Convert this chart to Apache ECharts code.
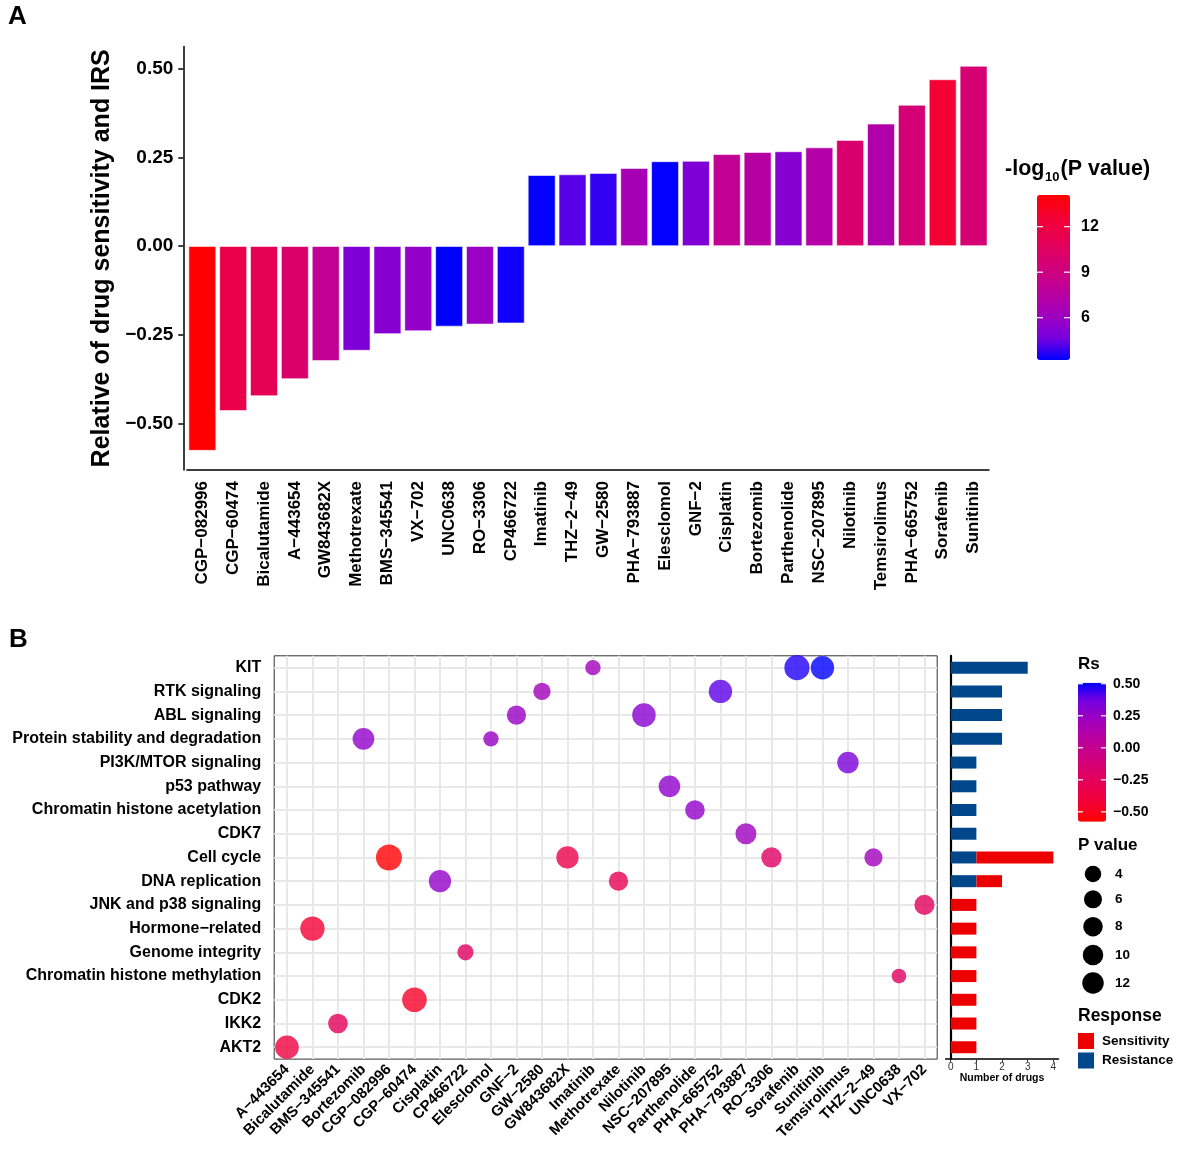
<!DOCTYPE html>
<html>
<head>
<meta charset="utf-8">
<script src="https://cdn.jsdelivr.net/npm/echarts@6/dist/echarts.min.js"></script>
<style>
  html, body { margin: 0; padding: 0; background: #fff; }
  #main { width: 1181px; height: 1160px; }
</style>
</head>
<body>
<div id="main"></div>
<script>
  'use strict'

  /*-----data-----*/
  // panel A order (sorted by Rs)
  var drugs = ['CGP-082996', 'CGP-60474', 'Bicalutamide', 'A-443654', 'GW843682X', 'Methotrexate',
    'BMS-345541', 'VX-702', 'UNC0638', 'RO-3306', 'CP466722', 'Imatinib', 'THZ-2-49', 'GW-2580',
    'PHA-793887', 'Elesclomol', 'GNF-2', 'Cisplatin', 'Bortezomib', 'Parthenolide', 'NSC-207895',
    'Nilotinib', 'Temsirolimus', 'PHA-665752', 'Sorafenib', 'Sunitinib'];
  var rsValues = [-0.577, -0.465, -0.423, -0.375, -0.324, -0.295, -0.248, -0.240, -0.227, -0.221, -0.218,
    0.200, 0.202, 0.206, 0.220, 0.239, 0.240, 0.259, 0.265, 0.267, 0.278, 0.299, 0.345, 0.398, 0.470, 0.508];
  // -log10(P value)
  var logP = [14.09, 11.6, 11.1, 10.0, 8.1, 5.0, 5.3, 5.7, 3.21, 5.9, 3.4, 3.25, 4.25, 3.8,
    6.6, 3.25, 5.0, 8.1, 7.45, 5.25, 7.25, 9.9, 7.1, 9.6, 12.6, 9.7];
  var drugPathway = ['Cell cycle', 'CDK2', 'Hormone-related', 'AKT2', 'Cell cycle', 'DNA replication',
    'IKK2', 'JNK and p38 signaling', 'Chromatin histone methylation', 'Cell cycle', 'Genome integrity',
    'KIT', 'Cell cycle', 'RTK signaling', 'CDK7', 'Protein stability and degradation', 'ABL signaling',
    'DNA replication', 'Protein stability and degradation', 'Chromatin histone acetylation', 'p53 pathway',
    'ABL signaling', 'PI3K/MTOR signaling', 'RTK signaling', 'KIT', 'KIT'];

  // panel B axes
  var drugsAlpha = ['A-443654', 'Bicalutamide', 'BMS-345541', 'Bortezomib', 'CGP-082996', 'CGP-60474',
    'Cisplatin', 'CP466722', 'Elesclomol', 'GNF-2', 'GW-2580', 'GW843682X', 'Imatinib', 'Methotrexate',
    'Nilotinib', 'NSC-207895', 'Parthenolide', 'PHA-665752', 'PHA-793887', 'RO-3306', 'Sorafenib',
    'Sunitinib', 'Temsirolimus', 'THZ-2-49', 'UNC0638', 'VX-702'];
  var pathways = ['KIT', 'RTK signaling', 'ABL signaling', 'Protein stability and degradation',
    'PI3K/MTOR signaling', 'p53 pathway', 'Chromatin histone acetylation', 'CDK7', 'Cell cycle',
    'DNA replication', 'JNK and p38 signaling', 'Hormone-related', 'Genome integrity',
    'Chromatin histone methylation', 'CDK2', 'IKK2', 'AKT2'];
  var resistCount = [3, 2, 2, 2, 1, 1, 1, 1, 1, 1, 0, 0, 0, 0, 0, 0, 0];
  var sensCount = [0, 0, 0, 0, 0, 0, 0, 0, 3, 1, 1, 1, 1, 1, 1, 1, 1];

  // tick labels
  var yTicksA = [-0.5, -0.25, 0, 0.25, 0.5];
  var pTicks = [12, 9, 6];
  var rsTicks = [0.5, 0.25, 0, -0.25, -0.5];
  var sizeKeys = [4, 6, 8, 10, 12];
  var countTicks = [0, 1, 2, 3, 4];

  /*-----style-----*/
  var FONT = 'Liberation Sans, Arial, Helvetica, sans-serif';
  // blue -> red through Lab (ggplot style)
  var blueRed = ['#0000FF', '#7300E0', '#9A00C3', '#B500A5', '#C90089', '#DA006C', '#E8004F', '#F40031', '#FF0000'];
  var redBlue = blueRed.slice().reverse();

  var pMin = 3.21, pMax = 14.09;
  var rsMin = -0.577, rsMax = 0.508;
  var dMin = 14.7, dMax = 26;           // bubble diameters at pMin / pMax
  var cbA = { x: 1037, y: 195, w: 33, h: 165 };
  var cbB = { x: 1078, y: 682.7, w: 28, h: 139 };
  var keyDiam = [16.5, 18, 19.5, 20.5, 21.5];
  var keyY = [874, 899.3, 926.7, 955, 983];

  function fmt(v) { return (v < 0 ? '\u2212' : '') + Math.abs(v).toFixed(2); }
  function dash(s) { return s.replace(/-/g, '\u2212'); }

  function txt(x, y, s, size, opts) {
    opts = opts || {};
    return {
      type: 'text', x: x, y: y, silent: true,
      style: {
        text: s, fontFamily: FONT, fontSize: size, fontWeight: opts.weight || 'bold',
        fill: opts.color || '#000', align: opts.align || 'left', verticalAlign: 'middle'
      }
    };
  }

  var graphics = [];
  graphics.push(txt(8, 17, 'A', 26));
  graphics.push(txt(9, 640, 'B', 26));

  // legend A: -log10(P value)
  graphics.push(txt(1005, 169, '-log', 21.5));
  graphics.push(txt(1045, 177, '10', 13));
  graphics.push(txt(1060.5, 169, '(P value)', 21.5));
  pTicks.forEach(function (v) {
    var y = cbA.y + (pMax - v) / (pMax - pMin) * cbA.h;
    graphics.push(txt(1081, y, String(v), 16));
    graphics.push({ type: 'line', silent: true, shape: { x1: cbA.x, y1: y, x2: cbA.x + 6, y2: y }, style: { stroke: '#fff', lineWidth: 1.2 }, z: 100 });
    graphics.push({ type: 'line', silent: true, shape: { x1: cbA.x + cbA.w - 6, y1: y, x2: cbA.x + cbA.w, y2: y }, style: { stroke: '#fff', lineWidth: 1.2 }, z: 100 });
  });

  // legend B: Rs
  graphics.push(txt(1078, 664.5, 'Rs', 17));
  rsTicks.forEach(function (v) {
    var y = cbB.y + (rsMax - v) / (rsMax - rsMin) * cbB.h;
    graphics.push(txt(1113, y, fmt(v), 14));
    graphics.push({ type: 'line', silent: true, shape: { x1: cbB.x, y1: y, x2: cbB.x + 5, y2: y }, style: { stroke: '#fff', lineWidth: 1.2 }, z: 100 });
    graphics.push({ type: 'line', silent: true, shape: { x1: cbB.x + cbB.w - 5, y1: y, x2: cbB.x + cbB.w, y2: y }, style: { stroke: '#fff', lineWidth: 1.2 }, z: 100 });
  });

  // legend B: P value sizes
  graphics.push(txt(1078, 845, 'P value', 17));
  sizeKeys.forEach(function (v, i) {
    graphics.push({ type: 'circle', silent: true, shape: { cx: 1093, cy: keyY[i], r: keyDiam[i] / 2 }, style: { fill: '#000' } });
    graphics.push(txt(1115, keyY[i], String(v), 13.5));
  });

  // legend B: Response
  graphics.push(txt(1078, 1016, 'Response', 17.5));
  graphics.push({ type: 'rect', silent: true, shape: { x: 1078, y: 1033, width: 16, height: 16 }, style: { fill: '#ED0000' } });
  graphics.push({ type: 'rect', silent: true, shape: { x: 1078, y: 1052.5, width: 16, height: 16 }, style: { fill: '#00468B' } });
  graphics.push(txt(1102, 1041, 'Sensitivity', 13.5));
  graphics.push(txt(1102, 1060.5, 'Resistance', 13.5));

  /*-----chart-----*/
  var chart = echarts.init(document.getElementById('main'), null, { renderer: 'canvas' });

  var option = {
    animation: false,
    backgroundColor: '#fff',
    textStyle: { fontFamily: FONT },
    grid: [
      { left: 186.9, top: 46.6, width: 802.1, height: 423.4 },
      { left: 274.2, top: 655.8, width: 663, height: 403.3, show: true, borderColor: '#333', borderWidth: 1, backgroundColor: 'transparent' },
      { left: 945.6, top: 655.8, width: 112.9, height: 403.3 }
    ],
    xAxis: [
      {
        type: 'category', gridIndex: 0, data: drugs,
        axisLine: { onZero: false, lineStyle: { color: '#000', width: 1.5 } },
        axisTick: { alignWithLabel: true, length: 5, lineStyle: { color: '#000', width: 1.5 } },
        axisLabel: { rotate: 90, interval: 0, margin: 11, fontSize: 17, fontWeight: 'bold', color: '#000', fontFamily: FONT, formatter: dash }
      },
      {
        type: 'category', gridIndex: 1, data: drugsAlpha,
        axisLine: { show: false },
        axisTick: { alignWithLabel: true, interval: 0, length: 5, lineStyle: { color: '#333', width: 1 } },
        axisLabel: { rotate: 45, interval: 0, margin: 8, fontSize: 15, fontWeight: 'bold', color: '#000', fontFamily: FONT, formatter: dash },
        splitLine: { show: true, alignWithLabel: true, interval: 0, lineStyle: { color: '#e8e8e8', width: 2 } }
      },
      {
        type: 'value', gridIndex: 2, min: -0.2, max: 4.2,
        axisLine: { show: true, lineStyle: { color: '#000', width: 1.5 } },
        axisTick: { show: true, customValues: countTicks, length: 3, lineStyle: { color: '#333' } },
        axisLabel: { customValues: countTicks, fontSize: 10, color: '#333', margin: 3, fontFamily: FONT },
        splitLine: { show: false },
        name: 'Number of drugs', nameLocation: 'middle', nameGap: 12,
        nameTextStyle: { fontSize: 10.5, fontWeight: 'bold', color: '#000', fontFamily: FONT }
      }
    ],
    yAxis: [
      {
        type: 'value', gridIndex: 0, min: -0.6313, max: 0.5623, offset: 3.6,
        axisLine: { show: true, lineStyle: { color: '#000', width: 1.5 } },
        axisTick: { show: true, customValues: yTicksA, length: 5, lineStyle: { color: '#000', width: 1.5 } },
        axisLabel: { customValues: yTicksA, formatter: fmt, fontSize: 19, fontWeight: 'bold', color: '#000', margin: 10, fontFamily: FONT },
        splitLine: { show: false },
        name: 'Relative of drug sensitivity and IRS', nameLocation: 'middle', nameGap: 62,
        nameTextStyle: { fontSize: 25, fontWeight: 'bold', color: '#000', fontFamily: FONT }
      },
      {
        type: 'category', gridIndex: 1, data: pathways, inverse: true,
        axisLine: { show: false },
        axisTick: { alignWithLabel: true, interval: 0, length: 5, lineStyle: { color: '#333', width: 1 } },
        axisLabel: { interval: 0, margin: 13, fontSize: 16, fontWeight: 'bold', color: '#000', fontFamily: FONT, formatter: dash },
        splitLine: { show: true, alignWithLabel: true, interval: 0, lineStyle: { color: '#e8e8e8', width: 2 } }
      },
      {
        type: 'category', gridIndex: 2, data: pathways, inverse: true,
        axisLine: { show: true, lineStyle: { color: '#000', width: 2.2 } },
        axisTick: { show: false },
        axisLabel: { show: false }
      }
    ],
    visualMap: [
      {
        type: 'continuous', seriesIndex: 0, dimension: 2, min: pMin, max: pMax,
        inRange: { color: blueRed }, calculable: false, padding: 0,
        left: cbA.x, top: cbA.y, itemWidth: cbA.w, itemHeight: cbA.h
      },
      {
        type: 'continuous', seriesIndex: 1, dimension: 2, min: rsMin, max: rsMax,
        inRange: { color: redBlue }, calculable: false, padding: 0,
        left: cbB.x, top: cbB.y, itemWidth: cbB.w, itemHeight: cbB.h
      }
    ],
    series: [
      {
        name: 'Rs', type: 'bar', xAxisIndex: 0, yAxisIndex: 0,
        encode: { x: 0, y: 1 },
        barCategoryGap: '10%',
        itemStyle: { borderColor: 'rgba(255,255,255,0.7)', borderWidth: 0.8 },
        data: drugs.map(function (d, i) { return [d, rsValues[i], logP[i]]; })
      },
      {
        name: 'Drugs', type: 'scatter', xAxisIndex: 1, yAxisIndex: 1,
        encode: { x: 0, y: 1 },
        symbol: 'circle',
        // area-style size scale: diameter grows with sqrt of the rescaled value
        symbolSize: function (v) {
          return dMin + (dMax - dMin) * Math.sqrt((v[3] - pMin) / (pMax - pMin));
        },
        data: drugs.map(function (d, i) { return [d, drugPathway[i], rsValues[i], logP[i]]; })
      },
      {
        name: 'Resistance', type: 'bar', stack: 'n', xAxisIndex: 2, yAxisIndex: 2,
        barWidth: 12, itemStyle: { color: '#00468B' }, data: resistCount
      },
      {
        name: 'Sensitivity', type: 'bar', stack: 'n', xAxisIndex: 2, yAxisIndex: 2,
        barWidth: 12, itemStyle: { color: '#ED0000' }, data: sensCount
      }
    ],
    graphic: graphics
  };

  chart.setOption(option);
</script>
</body>
</html>
